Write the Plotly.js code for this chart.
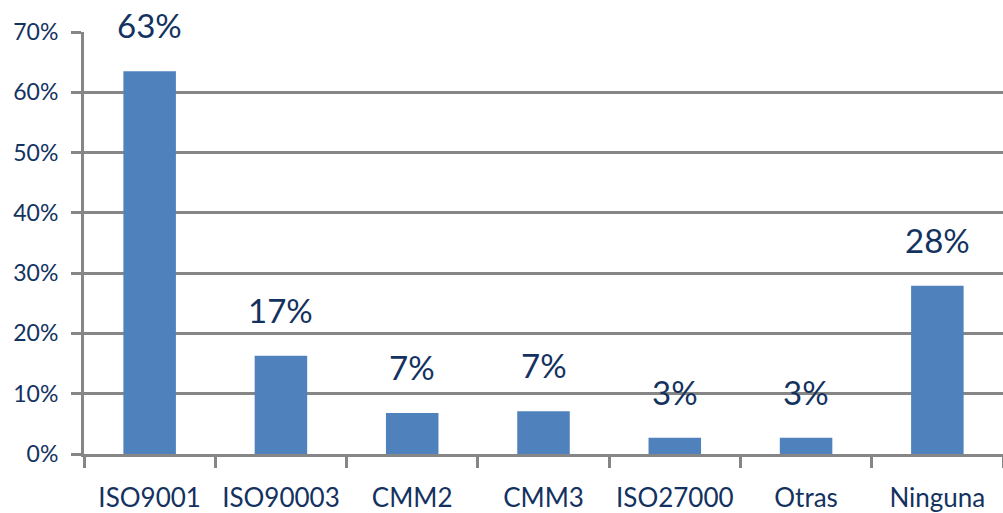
<!DOCTYPE html>
<html>
<head>
<meta charset="utf-8">
<script src="https://cdn.plot.ly/plotly-3.0.1.min.js"></script>
<style>html,body{margin:0;padding:0;background:#fff;}#chart{width:1003px;height:513px;}</style>
</head>
<body>
<div id="chart"></div>
<script>
const categories = ["ISO9001", "ISO90003", "CMM2", "CMM3", "ISO27000", "Otras", "Ninguna"];
const values = [63.5, 16.3, 6.8, 7.1, 2.7, 2.7, 27.9];
const valueLabels = ["63%", "17%", "7%", "7%", "3%", "3%", "28%"];
const yTickValues = [0, 10, 20, 30, 40, 50, 60, 70];
const yTickLabels = ["0%", "10%", "20%", "30%", "40%", "50%", "60%", "70%"];

const navy = "#14325f";
const grid = "#868686";

const trace = {
  type: "bar",
  x: categories,
  y: values,
  marker: {color: "#4f81bd"},
  hoverinfo: "skip"
};

const annotations = categories.map((c, i) => ({
  x: c, y: values[i], xref: "x", yref: "y",
  text: valueLabels[i], showarrow: false,
  yanchor: "bottom", yshift: 24,
  font: {family: "Lato", size: 33, color: navy}
}));

const layout = {
  width: 1003, height: 513,
  margin: {l: 84, r: 0, t: 32, b: 59},
  paper_bgcolor: "#fff", plot_bgcolor: "#fff",
  bargap: 0.6,
  showlegend: false,
  xaxis: {
    type: "category",
    tickson: "boundaries",
    tickangle: 0,
    ticks: "outside", ticklen: 11, tickwidth: 3, tickcolor: grid,
    showgrid: false, showline: true, linecolor: grid, linewidth: 3,
    tickfont: {family: "Lato", size: 26, color: navy},
    ticklabelstandoff: 19,
    fixedrange: true
  },
  yaxis: {
    range: [0, 70],
    tickvals: yTickValues, ticktext: yTickLabels,
    ticks: "outside", ticklen: 10, tickwidth: 3, tickcolor: grid,
    showgrid: true, gridcolor: grid, gridwidth: 3,
    showline: true, linecolor: grid, linewidth: 3,
    zeroline: false,
    tickfont: {family: "Lato", size: 23, color: navy},
    ticklabelstandoff: 8,
    fixedrange: true
  },
  annotations: annotations
};

Plotly.newPlot("chart", [trace], layout, {displayModeBar: false, staticPlot: true});
</script>
</body>
</html>
